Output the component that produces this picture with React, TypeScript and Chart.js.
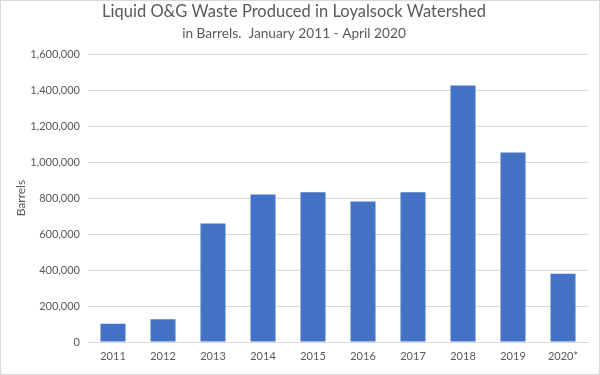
import React, { useEffect, useRef } from "react";
import { Chart, registerables } from "chart.js";

Chart.register(...registerables);

const categories = ["2011", "2012", "2013", "2014", "2015", "2016", "2017", "2018", "2019", "2020*"];
const barrels = [102000, 126000, 659000, 820000, 832000, 781000, 833000, 1426000, 1054000, 380000];
const titleText = "Liquid O&G Waste Produced in Loyalsock Watershed";
const subtitleText = "in Barrels.  January 2011 - April 2020";
const yAxisTitle = "Barrels";

const FONT = "Lato, 'Open Sans', sans-serif";
const TEXT = "#595959";

export default function App() {
  const ref = useRef<HTMLCanvasElement | null>(null);
  useEffect(() => {
    document.body.style.margin = "0";
    const chart = new Chart(ref.current!, {
      type: "bar",
      data: {
        labels: categories,
        datasets: [
          {
            data: barrels,
            backgroundColor: "#4472C4",
            categoryPercentage: 1,
            barPercentage: 0.5,
          },
        ],
      },
      options: {
        animation: false,
        responsive: false,
        layout: { padding: { left: 0, right: 12, top: 2, bottom: 0 } },
        plugins: {
          legend: { display: false },
          tooltip: { enabled: false },
          title: {
            display: true,
            text: titleText,
            color: TEXT,
            font: { family: FONT, size: 16.5, weight: "normal" },
            padding: { top: 0, bottom: 4 },
          },
          subtitle: {
            display: true,
            text: subtitleText,
            color: TEXT,
            font: { family: FONT, size: 13.7, weight: "normal" },
            padding: { top: 0, bottom: 12 },
          },
        },
        scales: {
          x: {
            grid: { display: false, drawTicks: false },
            border: { display: true, color: "#d9d9d9" },
            ticks: { color: TEXT, font: { family: FONT, size: 11 }, padding: 8 },
            afterFit: (s: any) => { s.height = 33; },
          },
          y: {
            min: 0,
            max: 1600000,
            ticks: {
              stepSize: 200000,
              color: TEXT,
              font: { family: FONT, size: 11 },
              padding: 8,
              callback: (v: any) => Number(v).toLocaleString("en-US"),
            },
            grid: { color: "#d9d9d9", drawTicks: false },
            border: { display: false },
            title: {
              display: true,
              text: yAxisTitle,
              color: TEXT,
              font: { family: FONT, size: 12 },
              padding: { top: 14, bottom: 0 },
            },
            afterFit: (s: any) => { s.width = 88; },
          },
        },
      },
    });
    return () => chart.destroy();
  }, []);
  return (
    <div style={{ width: 600, height: 375, position: "relative", boxSizing: "border-box" }}>
      <canvas ref={ref} width={600} height={375} style={{ display: "block", position: "absolute", left: 0, top: 0 }} />
      <div style={{ position: "absolute", left: 0, top: 0, width: 600, height: 375, boxSizing: "border-box", border: "1px solid #d9d9d9", pointerEvents: "none" }} />
    </div>
  );
}
